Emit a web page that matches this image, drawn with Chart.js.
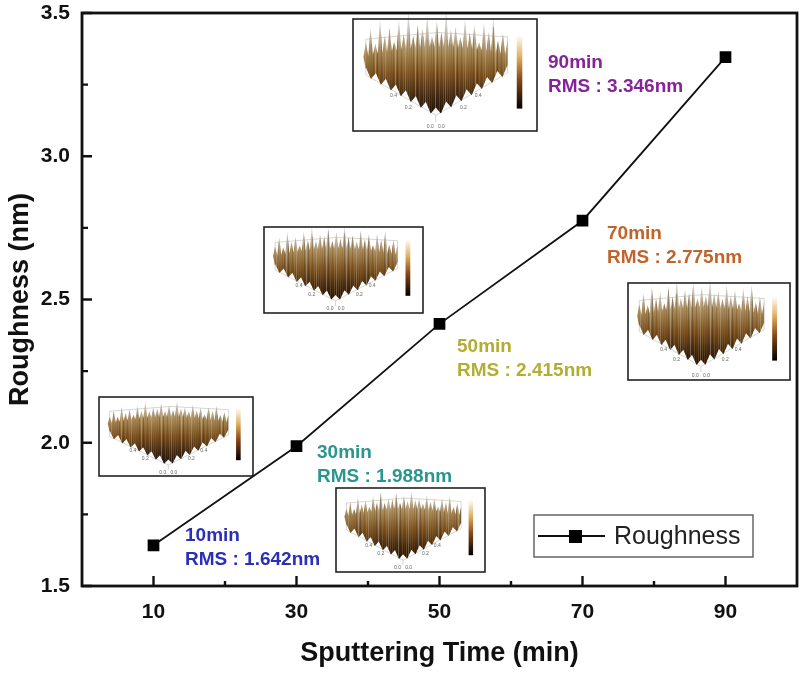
<!DOCTYPE html>
<html>
<head>
<meta charset="utf-8">
<script src="https://cdn.jsdelivr.net/npm/chart.js@4.4.1/dist/chart.umd.min.js"></script>
<style>
html,body{margin:0;padding:0;background:#fff;}
#wrap{width:800px;height:674px;position:relative;}
</style>
</head>
<body>
<div id="wrap"><canvas id="c" width="800" height="674"></canvas></div>
<script>
// ---- data ----
const sputterTimes = [10, 30, 50, 70, 90];
const roughness = [1.642, 1.988, 2.415, 2.775, 3.346];
const xTickValues = [10, 30, 50, 70, 90];
const xMinorTicks = [20, 40, 60, 80];
const yTickValues = [1.5, 2.0, 2.5, 3.0, 3.5];
const yMinorTicks = [1.75, 2.25, 2.75, 3.25];
const pointLabels = [
  ['10min', 'RMS : 1.642nm'],
  ['30min', 'RMS : 1.988nm'],
  ['50min', 'RMS : 2.415nm'],
  ['70min', 'RMS : 2.775nm'],
  ['90min', 'RMS : 3.346nm']
];
const seriesName = 'Roughness';

// ---- styling / placement (pixels) ----
const labelColors = ['#2b2fb8', '#2a968e', '#b3ad34', '#c2632b', '#87239a'];
const labelPos = [[185, 536], [317, 453], [457, 347], [607, 234], [548, 63]];
const insetBoxes = [
  {x: 99, y: 397, w: 154, h: 79, amp: 0.55},
  {x: 336, y: 488, w: 149, h: 84, amp: 0.6},
  {x: 264, y: 227, w: 159, h: 86, amp: 0.8},
  {x: 628, y: 283, w: 162, h: 97, amp: 0.9},
  {x: 353, y: 19, w: 184, h: 112, amp: 1.0}
];
// decorative spike pattern for the AFM-like inset sketches
const spikePattern = [0.3,0.7,0.2,0.9,0.4,0.6,0.15,0.8,0.35,1.0,0.25,0.55,0.45,0.85,0.2,0.65,0.3,0.95,0.4,0.5,0.2,0.75,0.35,0.6,0.1,0.7,0.45,0.9,0.25,0.5];
const stripeShades = ['#5a3a18','#a07840','#c8c0b0','#7a5226','#3a2410','#b08a50','#8e6a3a','#d8d4cc','#6a4420','#9a7440'];

function drawInset(ctx, b) {
  ctx.save();
  ctx.fillStyle = '#fff';
  ctx.fillRect(b.x, b.y, b.w, b.h);
  const L = [b.x + 0.07*b.w, b.y + 0.50*b.h];
  const B = [b.x + 0.45*b.w, b.y + 0.86*b.h];
  const R = [b.x + 0.84*b.w, b.y + 0.48*b.h];
  const T = [b.x + 0.46*b.w, b.y + 0.22*b.h];
  // base axes (thin grey)
  ctx.strokeStyle = '#bbb'; ctx.lineWidth = 0.6;
  ctx.beginPath();
  ctx.moveTo(L[0], L[1]); ctx.lineTo(B[0], B[1]); ctx.lineTo(R[0], R[1]);
  ctx.moveTo(L[0], L[1] - 0.32*b.h); ctx.lineTo(T[0], T[1] - 0.1*b.h); ctx.lineTo(R[0], R[1] - 0.32*b.h);
  ctx.moveTo(L[0], L[1]); ctx.lineTo(L[0], L[1] - 0.32*b.h);
  ctx.moveTo(R[0], R[1]); ctx.lineTo(R[0], R[1] - 0.32*b.h);
  ctx.moveTo(B[0], B[1]); ctx.lineTo(B[0], B[1] + 0.06*b.h);
  ctx.stroke();
  // surface outline path
  const n = spikePattern.length;
  ctx.beginPath();
  ctx.moveTo(L[0], L[1] - 0.05*b.h);
  for (let i = 0; i <= n; i++) {
    const t = i / n;
    const bx = L[0] + (R[0] - L[0]) * t;
    const by = L[1] - 0.2*b.h + (R[1] - L[1]) * t - Math.sin(Math.PI * t) * 0.08 * b.h;
    const s = spikePattern[i % n] * b.amp * 0.3 * b.h;
    ctx.lineTo(bx - (R[0]-L[0])/(2*n), by + 0.04*b.h);
    ctx.lineTo(bx, by - s);
  }
  ctx.lineTo(R[0], R[1] - 0.05*b.h);
  for (let i = 0; i <= 14; i++) {
    const t = i / 14;
    const px = R[0] + (B[0] - R[0]) * t;
    const py = R[1] + (B[1] - R[1]) * t - 0.04*b.h + (i % 2 ? 0.05*b.h : -0.03*b.h);
    ctx.lineTo(px, py);
  }
  for (let i = 0; i <= 14; i++) {
    const t = i / 14;
    const px = B[0] + (L[0] - B[0]) * t;
    const py = B[1] + (L[1] - B[1]) * t - 0.04*b.h + (i % 2 ? 0.05*b.h : -0.03*b.h);
    ctx.lineTo(px, py);
  }
  ctx.closePath();
  const g = ctx.createLinearGradient(0, b.y + 0.05*b.h, 0, B[1]);
  g.addColorStop(0, '#cfcfcf');
  g.addColorStop(0.3, '#a88a58');
  g.addColorStop(0.55, '#7a5020');
  g.addColorStop(0.8, '#3e2610');
  g.addColorStop(1, '#1a0e06');
  ctx.fillStyle = g;
  ctx.fill();
  // vertical texture stripes inside surface
  ctx.save();
  ctx.clip();
  const step = 2;
  for (let k = 0, xx = b.x; xx < b.x + b.w; xx += step, k++) {
    ctx.globalAlpha = 0.35;
    ctx.fillStyle = stripeShades[(k * 7) % stripeShades.length];
    const top = b.y + (spikePattern[(k * 3) % n]) * 0.25 * b.h;
    ctx.fillRect(xx, top, 1, b.h);
  }
  ctx.restore();
  // colorbar
  const cx = b.x + 0.89*b.w, cy = b.y + 0.14*b.h, cw = Math.max(3, 0.03*b.w), ch = 0.66*b.h;
  const cg = ctx.createLinearGradient(0, cy, 0, cy + ch);
  cg.addColorStop(0, '#ffffff'); cg.addColorStop(0.3, '#e0b060');
  cg.addColorStop(0.6, '#8a4a18'); cg.addColorStop(1, '#000');
  ctx.fillStyle = cg; ctx.fillRect(cx, cy, cw, ch);
  // tiny labels
  ctx.fillStyle = '#666';
  ctx.font = '5px "Liberation Sans"';
  ctx.textAlign = 'center';
  ctx.fillText('0.0   0.0', B[0], B[1] + 0.11*b.h);
  ctx.fillText('0.2', b.x + 0.3*b.w, b.y + 0.8*b.h);
  ctx.fillText('0.2', b.x + 0.6*b.w, b.y + 0.8*b.h);
  ctx.fillText('0.4', b.x + 0.22*b.w, b.y + 0.7*b.h);
  ctx.fillText('0.4', b.x + 0.68*b.w, b.y + 0.7*b.h);
  // frame
  ctx.strokeStyle = '#222'; ctx.lineWidth = 1.6;
  ctx.strokeRect(b.x, b.y, b.w, b.h);
  ctx.restore();
}

const framePlugin = {
  id: 'frame',
  beforeDatasetsDraw(chart) {
    const {ctx} = chart;
    ctx.save();
    insetBoxes.forEach(b => drawInset(ctx, b));
    ctx.restore();
  },
  afterDatasetsDraw(chart) {
    const {ctx, chartArea: a, scales: {x, y}} = chart;
    ctx.save();
    // ticks inward
    ctx.strokeStyle = '#111'; ctx.lineWidth = 2.4;
    ctx.beginPath();
    xTickValues.forEach(v => { const p = x.getPixelForValue(v); ctx.moveTo(p, a.bottom); ctx.lineTo(p, a.bottom - 10); });
    xMinorTicks.forEach(v => { const p = x.getPixelForValue(v); ctx.moveTo(p, a.bottom); ctx.lineTo(p, a.bottom - 5); });
    yTickValues.forEach(v => { const p = y.getPixelForValue(v); ctx.moveTo(a.left, p); ctx.lineTo(a.left + 10, p); });
    yMinorTicks.forEach(v => { const p = y.getPixelForValue(v); ctx.moveTo(a.left, p); ctx.lineTo(a.left + 6, p); });
    ctx.stroke();
    // frame
    ctx.lineWidth = 2.8;
    ctx.strokeRect(a.left, a.top, a.right - a.left, a.bottom - a.top);
    // point annotations
    ctx.font = 'bold 19px "Liberation Sans", Arial, sans-serif';
    ctx.textAlign = 'left'; ctx.textBaseline = 'middle';
    pointLabels.forEach((lines, i) => {
      ctx.fillStyle = labelColors[i];
      ctx.fillText(lines[0], labelPos[i][0], labelPos[i][1]);
      ctx.fillText(lines[1], labelPos[i][0], labelPos[i][1] + 24);
    });
    // legend
    ctx.fillStyle = '#fff';
    ctx.fillRect(534, 515, 219, 42);
    ctx.strokeStyle = '#666'; ctx.lineWidth = 1.5;
    ctx.strokeRect(534, 515, 219, 42);
    ctx.strokeStyle = '#111'; ctx.lineWidth = 1.8;
    ctx.beginPath(); ctx.moveTo(538, 536); ctx.lineTo(605, 536); ctx.stroke();
    ctx.fillStyle = '#000'; ctx.fillRect(569, 530, 13, 13);
    ctx.fillStyle = '#222';
    ctx.font = '25px "Liberation Sans", Arial, sans-serif';
    ctx.fillText(seriesName, 614, 537);
    ctx.restore();
  }
};

new Chart(document.getElementById('c'), {
  type: 'line',
  data: {
    datasets: [{
      label: seriesName,
      data: sputterTimes.map((t, i) => ({x: t, y: roughness[i]})),
      borderColor: '#111',
      borderWidth: 1.8,
      pointStyle: 'rect',
      pointRadius: 7,
      pointBackgroundColor: '#000',
      pointBorderColor: '#000',
      tension: 0
    }]
  },
  options: {
    responsive: false,
    animation: false,
    devicePixelRatio: 1,
    layout: {autoPadding: false, padding: {top: 13, right: 3, bottom: 0, left: 0}},
    plugins: {legend: {display: false}, tooltip: {enabled: false}},
    scales: {
      x: {
        type: 'linear', min: 0, max: 100,
        afterBuildTicks: s => { s.ticks = xTickValues.map(v => ({value: v})); },
        afterFit: s => { s.height = 88; s.paddingLeft = 0; s.paddingRight = 0; },
        grid: {display: false, drawTicks: false},
        border: {display: false},
        ticks: {color: '#111', padding: 14, font: {family: '"Liberation Sans", Arial', size: 21, weight: 'bold'}},
        title: {display: true, text: 'Sputtering Time (min)', color: '#111', padding: {top: 12},
                font: {family: '"Liberation Sans", Arial', size: 27, weight: 'bold'}}
      },
      y: {
        type: 'linear', min: 1.5, max: 3.5,
        afterBuildTicks: s => { s.ticks = yTickValues.map(v => ({value: v})); },
        afterFit: s => { s.width = 82; s.paddingTop = 0; s.paddingBottom = 0; },
        grid: {display: false, drawTicks: false},
        border: {display: false},
        ticks: {color: '#111', padding: 12, callback: v => v.toFixed(1),
                font: {family: '"Liberation Sans", Arial', size: 21, weight: 'bold'}},
        title: {display: true, text: 'Roughness (nm)', color: '#111', padding: {bottom: 4},
                font: {family: '"Liberation Sans", Arial', size: 27, weight: 'bold'}}
      }
    }
  },
  plugins: [framePlugin]
});
</script>
</body>
</html>
